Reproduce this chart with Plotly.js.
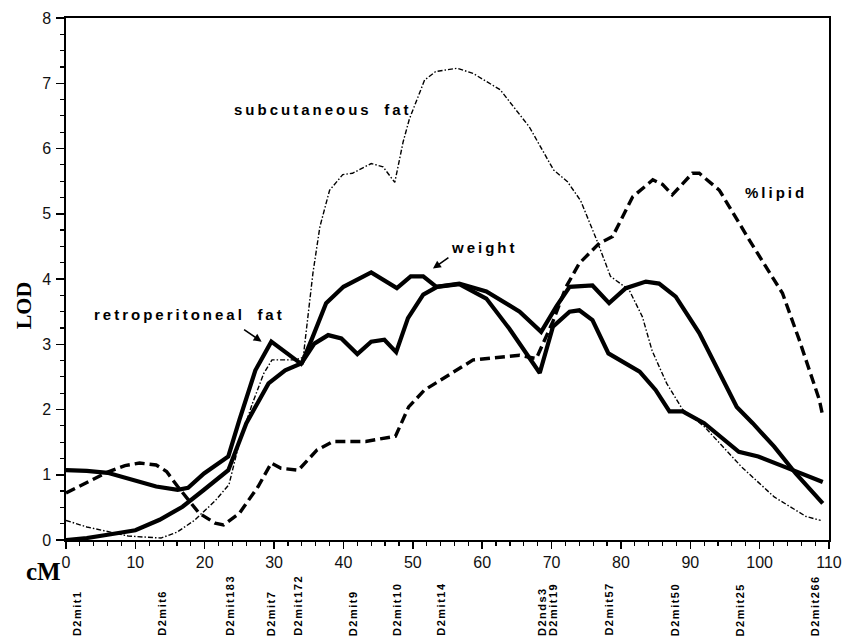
<!DOCTYPE html>
<html><head><meta charset="utf-8">
<script src="https://cdn.plot.ly/plotly-3.0.1.min.js"></script>
<style>html,body{margin:0;padding:0;background:#fff}</style>
</head><body><div id="chart" style="width:844px;height:642px"></div>
<script>
// ---- data (cM position, LOD score) ----
const weightCM  = [0, 3, 6, 10, 13.5, 16.8, 19.9, 23.4, 26, 29.2, 31.6, 34, 35.6, 37.5, 40, 44, 47.7, 49.7, 51.5, 53.4, 56.7, 60.6, 65.4, 68.5, 70.7, 72.6, 75.9, 78.3, 80.7, 83.6, 85.5, 87.9, 91.3, 94, 96.7, 99, 102.1, 105.2, 109.1];
const weightLOD = [0, 0.03, 0.08, 0.15, 0.31, 0.51, 0.77, 1.07, 1.79, 2.4, 2.6, 2.71, 3.12, 3.63, 3.88, 4.1, 3.86, 4.04, 4.04, 3.88, 3.93, 3.81, 3.5, 3.19, 3.58, 3.88, 3.9, 3.63, 3.86, 3.96, 3.93, 3.73, 3.17, 2.6, 2.04, 1.79, 1.43, 1.02, 0.56];

const retroCM  = [0, 3, 6, 9.9, 13, 16.1, 17.6, 19.9, 23.4, 25, 27.3, 29.6, 31.8, 33.9, 35.8, 37.8, 39.7, 42, 44, 45.9, 47.6, 49.3, 51.5, 53.5, 56.7, 60.6, 63.9, 68.3, 70.2, 72.6, 74, 75.9, 78.2, 80.6, 82.7, 85, 87, 88.9, 92, 97, 99.8, 103.6, 106.7, 109.1];
const retroLOD = [1.07, 1.06, 1.03, 0.92, 0.82, 0.77, 0.8, 1.02, 1.28, 1.84, 2.6, 3.04, 2.87, 2.7, 3.01, 3.14, 3.09, 2.85, 3.04, 3.07, 2.88, 3.4, 3.76, 3.88, 3.92, 3.7, 3.24, 2.56, 3.27, 3.5, 3.52, 3.37, 2.86, 2.72, 2.58, 2.3, 1.97, 1.97, 1.79, 1.35, 1.28, 1.12, 1.0, 0.89];

const subcutCM  = [0, 3, 6, 9, 13.7, 16, 18.5, 21.5, 23.5, 25, 26.9, 28.5, 29.7, 33, 34.2, 35.6, 36.6, 38, 39.9, 41.3, 44, 45.7, 47.4, 48.6, 49.5, 51.7, 53.3, 56.4, 58.7, 62.6, 66.8, 70.3, 72.3, 74.2, 76.5, 78.5, 81.2, 83.1, 84.5, 86.6, 88.9, 92, 97.4, 102.1, 106.7, 108.8];
const subcutLOD = [0.3, 0.2, 0.13, 0.06, 0.03, 0.12, 0.3, 0.6, 0.85, 1.5, 2.1, 2.55, 2.76, 2.76, 2.8, 4.09, 4.8, 5.36, 5.6, 5.62, 5.77, 5.72, 5.48, 6.1, 6.45, 7.05, 7.18, 7.23, 7.15, 6.9, 6.33, 5.67, 5.49, 5.2, 4.6, 4.04, 3.83, 3.42, 2.9, 2.4, 2.0, 1.74, 1.12, 0.66, 0.36, 0.3];

const lipidCM  = [0, 3, 6, 8.5, 10.6, 13, 14.5, 16.1, 19.2, 21.5, 22.7, 25, 27.7, 29.6, 31, 33.5, 36.2, 38.5, 43.2, 47.5, 49.4, 51.7, 54.8, 58.7, 63.4, 65.4, 67.8, 70.2, 72.1, 74, 76.9, 78.8, 81.7, 84.6, 86, 87.4, 90.3, 91.3, 94.2, 98.5, 103.3, 105.7, 108.6, 109];
const lipidLOD = [0.72, 0.88, 1.04, 1.14, 1.18, 1.15, 1.05, 0.82, 0.41, 0.26, 0.23, 0.41, 0.82, 1.18, 1.1, 1.07, 1.38, 1.51, 1.51, 1.59, 2.04, 2.3, 2.5, 2.76, 2.81, 2.83, 2.78, 3.35, 3.88, 4.24, 4.55, 4.65, 5.26, 5.52, 5.45, 5.29, 5.62, 5.62, 5.36, 4.6, 3.78, 3.07, 2.15, 1.95];

// marker labels under the axis
const markerNames = ["D2mit1", "D2mit6", "D2mit183", "D2mit7", "D2mit172", "D2mit9", "D2mit10", "D2mit14", "D2nds3", "D2mit19", "D2mit57", "D2mit50", "D2mit25", "D2mit266"];
const markerCM    = [1.6, 13.8, 23.7, 29.6, 33.5, 41.4, 47.8, 54.1, 68.7, 70.3, 78.3, 87.9, 97.3, 108.1];

// tick values
const xTicks = [0, 10, 20, 30, 40, 50, 60, 70, 80, 90, 100, 110];
const yTicks = [0, 1, 2, 3, 4, 5, 6, 7, 8];

// curve labels
const seriesLabels = ["subcutaneous", "fat", "%lipid", "weight", "retroperitoneal", "fat"];

// ---- figure ----
const thick = {color: '#000', width: 4.2};
const traces = [
  {x: lipidCM, y: lipidLOD, mode: 'lines', line: {color: '#000', width: 3.4, dash: '10px,5px'}, name: '%lipid'},
  {x: subcutCM, y: subcutLOD, mode: 'lines', line: {color: '#000', width: 1.4, dash: '5px,2px,1.5px,2px'}, name: 'subcutaneous fat'},
  {x: retroCM, y: retroLOD, mode: 'lines', line: thick, name: 'retroperitoneal fat'},
  {x: weightCM, y: weightLOD, mode: 'lines', line: thick, name: 'weight'}
];

const lblFont = {family: 'Liberation Sans, Arial, sans-serif', size: 15, color: '#000', weight: 'bold'};
const sp = s => '<span style="letter-spacing:3.0px">' + s + '</span>';
const gap = '&nbsp;&nbsp;&nbsp;';
const annotations = [
  {x: 24.0, y: 6.6, xref: 'x', yref: 'y', xanchor: 'left', yanchor: 'middle', showarrow: false,
   text: sp(seriesLabels[0]) + gap + sp(seriesLabels[1]), font: lblFont},
  {x: 97.6, y: 5.32, xref: 'x', yref: 'y', xanchor: 'left', yanchor: 'middle', showarrow: false,
   text: sp(seriesLabels[2]), font: lblFont},
  {x: 55.2, y: 4.49, xref: 'x', yref: 'y', xanchor: 'left', yanchor: 'middle', showarrow: false,
   text: sp(seriesLabels[3]), font: lblFont},
  {x: 3.8, y: 3.45, xref: 'x', yref: 'y', xanchor: 'left', yanchor: 'middle', showarrow: false,
   text: sp(seriesLabels[4]) + gap + sp(seriesLabels[5]), font: lblFont},
  // arrows
  {x: 52.9, y: 4.16, xref: 'x', yref: 'y', ax: 17, ay: -12, showarrow: true, arrowhead: 2, arrowsize: 1, arrowwidth: 1.6, arrowcolor: '#000', text: ''},
  {x: 28.2, y: 3.04, xref: 'x', yref: 'y', ax: -19, ay: -13, showarrow: true, arrowhead: 2, arrowsize: 1, arrowwidth: 1.6, arrowcolor: '#000', text: ''},
  // axis titles
  {x: -0.056, y: 0.45, xref: 'paper', yref: 'paper', textangle: -90, showarrow: false, xanchor: 'center', yanchor: 'middle',
   text: 'LOD', font: {family: 'Liberation Serif, Times New Roman, serif', size: 22, color: '#000', weight: 'bold'}},
  {x: -0.029, y: -0.061, xref: 'paper', yref: 'paper', showarrow: false, xanchor: 'center', yanchor: 'middle',
   text: 'cM', font: {family: 'Liberation Serif, Times New Roman, serif', size: 25, color: '#000', weight: 'bold'}}
];
markerNames.forEach((m, i) => {
  annotations.push({
    x: markerCM[i], y: -0.1877, xref: 'x', yref: 'paper', textangle: -90, showarrow: false,
    xanchor: 'center', yanchor: 'bottom',
    text: '<span style="letter-spacing:1.5px">' + m + '</span>',
    font: {family: 'Liberation Sans, Arial, sans-serif', size: 11, color: '#000', weight: 'bold'}
  });
});

const tickFont = {family: 'Liberation Sans Narrow, Arial Narrow, Liberation Sans, sans-serif', size: 16, color: '#111'};
const layout = {
  width: 844, height: 642,
  margin: {l: 66, r: 15, t: 18, b: 102},
  paper_bgcolor: '#fff', plot_bgcolor: '#fff',
  showlegend: false,
  xaxis: {
    range: [0, 110], tickvals: xTicks, ticks: 'outside', ticklen: 7, tickwidth: 1.5, tickcolor: '#000',
    minor: {dtick: 2, ticks: 'outside', ticklen: 4, tickwidth: 1.2, tickcolor: '#000'},
    showline: true, linecolor: '#000', linewidth: 1.6, mirror: true,
    showgrid: false, zeroline: false, tickfont: tickFont
  },
  yaxis: {
    range: [0, 8], tickvals: yTicks, ticks: 'outside', ticklen: 8, tickwidth: 1.5, tickcolor: '#000',
    minor: {dtick: 0.25, ticks: 'outside', ticklen: 4, tickwidth: 1.2, tickcolor: '#000'},
    showline: true, linecolor: '#000', linewidth: 1.6, mirror: true,
    showgrid: false, zeroline: false, tickfont: tickFont, ticklabelstandoff: 2
  },
  annotations: annotations
};

Plotly.newPlot('chart', traces, layout, {displayModeBar: false, staticPlot: true});
</script>
</body></html>
